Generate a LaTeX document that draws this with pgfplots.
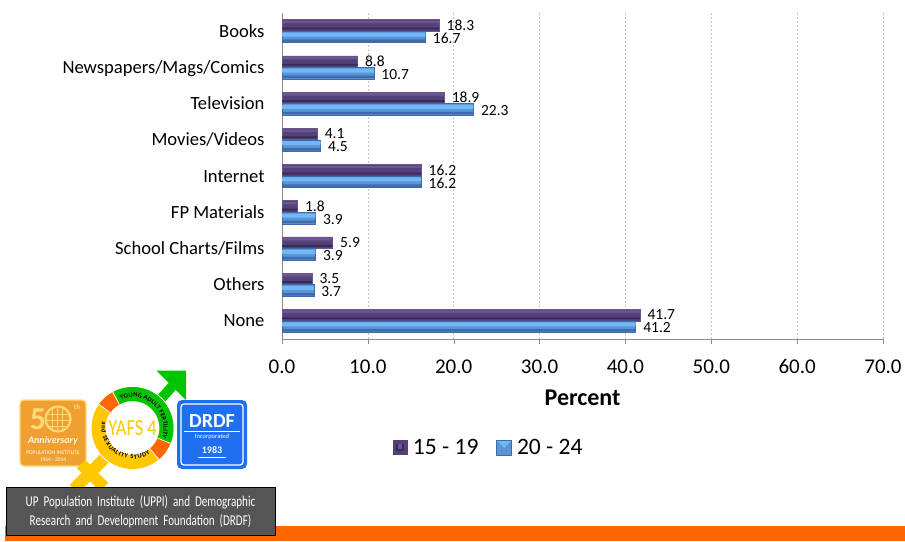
\documentclass[border=0pt]{standalone}
\usepackage{pgfplots}
\pgfplotsset{compat=1.18}
\usepackage{fontspec}
\usetikzlibrary{decorations.text}
\setmainfont{Carlito}
\definecolor{pbase}{HTML}{54407A}
\definecolor{ptop}{HTML}{6B5690}
\definecolor{pdark}{HTML}{3A2A56}
\definecolor{bbase}{HTML}{5A94D6}
\definecolor{btop}{HTML}{72B8F4}
\definecolor{bdark}{HTML}{3F6CA8}
\definecolor{gridc}{HTML}{C4C4C4}
\definecolor{axisc}{HTML}{8C8C8C}
\definecolor{band}{HTML}{FF6600}
\definecolor{goldo}{HTML}{EFA030}
\definecolor{goldl}{HTML}{FFD878}
\definecolor{drdf}{HTML}{1F6FF0}
\definecolor{ringy}{HTML}{FFC800}
\definecolor{ringg}{HTML}{00C400}
\definecolor{boxg}{HTML}{555555}
\pgfplotstableread{
pos a b
0 18.3 16.7
1 8.8 10.7
2 18.9 22.3
3 4.1 4.5
4 16.2 16.2
5 1.8 3.9
6 5.9 3.9
7 3.5 3.7
8 41.7 41.2
}\datatable
\pgfplotsset{
  plegend/.style={legend image code/.code={
    \path[fill=pbase,draw=none] (0pt,-7.5pt) rectangle (15pt,7.5pt);
    \path[fill=pdark,draw=none] (3.5pt,-3.5pt) rectangle (11.5pt,4pt);
    \path[fill=ptop,draw=none] (5.5pt,-1.5pt) rectangle (9.5pt,4pt);}},
  blegend/.style={legend image code/.code={
    \path[fill=bbase,draw=none] (0pt,-7.5pt) rectangle (15pt,7.5pt);
    \path[fill=btop,draw=none] (0pt,7.5pt) -- (15pt,7.5pt) -- (7.5pt,0pt) -- cycle;
    \path[draw=bdark,fill=none,line width=0.6pt] (0pt,-7.5pt) rectangle (15pt,7.5pt);}},
}
\begin{document}
\begin{tikzpicture}[x=1pt,y=-1pt]
\path (0,0) rectangle (905,541);
\fill[band] (5,526) rectangle (905,541);
% gold logo
\fill[goldo,draw=goldl,line width=1.4pt,rounded corners=4pt] (20,400) rectangle (86,466);
\draw[goldl,line width=2.2pt] (58,419) circle (12.5);
\draw[goldl,line width=0.5pt] (52,408) -- (52,430) (57,407) -- (57,431) (62,408) -- (62,430) (47,414) -- (69,414) (46,420) -- (70,420) (47,426) -- (69,426);
\node[text=goldl,font=\fontsize{32}{32}\selectfont\bfseries] at (38,419) {5};
\node[text=goldl,font=\fontsize{7}{7}\selectfont\bfseries\itshape] at (77,407) {th};
\node[text=white!90!goldo,font=\fontsize{10}{10}\selectfont\bfseries\itshape] at (53,441) {Anniversary};
\node[white,font=\fontsize{5.5}{6}\selectfont] at (53,453) {POPULATION INSTITUTE};
\node[white,font=\fontsize{5.5}{6}\selectfont] at (53,460) {1964 - 2014};
% male arrow
\draw[ringg,line width=10pt] (158,402) -- (178,380);
\fill[ringg] (156.7,370.7) -- (186,370.7) -- (186,400) -- cycle;
% female cross
\draw[ringy,line width=12pt] (105,458) -- (74,489);
\draw[ringy,line width=12pt] (81,464) -- (104,487);
% ring
\begin{scope}[shift={(132.5,428)},y=1pt]
\fill[white] (0,0) circle (42);
\draw[ringy,line width=14pt] (0,0) circle (34);
\draw[ringg,line width=14pt] (118:34) arc[start angle=118,end angle=-22,radius=34];
\draw[band,line width=14pt] (-22:34) arc[start angle=-22,end angle=-50,radius=34];
\draw[band,line width=14pt] (119:34) arc[start angle=119,end angle=145,radius=34];
\foreach \a in {119,145,-22,-50}{\draw[white,line width=0.7pt] (\a:27) -- (\a:41);}
\path[postaction={decorate,decoration={text along path,text align={fit to path},
  text={|\fontsize{6.5}{6.5}\selectfont\bfseries|YOUNG ADULT FERTILITY}}}]
  (112:31) arc[start angle=112,end angle=-18,radius=31];
\path[postaction={decorate,decoration={text along path,text align={fit to path},
  text={|\fontsize{6.5}{6.5}\selectfont\bfseries|and  SEXUALITY STUDY}}}]
  (168:31) arc[start angle=168,end angle=305,radius=31];
\node[text=ringy,font=\fontsize{23}{23}\selectfont] at (0,0) {\scalebox{0.8}[1]{YAFS 4}};
\end{scope}
% DRDF
\fill[drdf,rounded corners=5pt] (177,400) rectangle (247,469);
\draw[white,line width=1.2pt,rounded corners=3pt] (181,404) rectangle (243,465);
\node[white,font=\fontsize{20}{20}\selectfont\bfseries] at (212,421) {DRDF};
\node[white,font=\fontsize{6.5}{6.5}\selectfont] at (212,437) {Incorporated};
\draw[white] (184,431) -- (240,431);
\node[white,font=\fontsize{10}{10}\selectfont\bfseries] at (212,450) {1983};
\draw[white] (198,457) -- (226,457);
% grey box
\fill[boxg,draw=black,line width=0.8pt] (6,487) rectangle (275,535);
\node[white,align=center,font=\fontsize{15}{19}\selectfont] at (140.5,512) {\scalebox{0.74}[1]{UP\ \ Population\ \ Institute\ \ (UPPI)\ \ and\ \ Demographic}\\ \scalebox{0.74}[1]{Research\ \ and\ \ Development\ \ Foundation\ \ (DRDF)}};
\begin{axis}[
  at={(282pt,-339pt)},anchor=south west,
  scale only axis,width=601pt,height=326pt,
  xmin=0,xmax=70,ymin=-0.5,ymax=8.5,y dir=reverse,
  axis x line*=bottom,axis y line*=left,
  axis line style={axisc,-},
  xtick={0,10,...,70},
  ytick={0,...,8},
  yticklabels={Books,Newspapers/Mags/Comics,Television,Movies/Videos,Internet,FP Materials,School Charts/Films,Others,None},
  extra y ticks={-0.5,0.5,1.5,2.5,3.5,4.5,5.5,6.5,7.5,8.5},
  extra y tick labels={},
  extra y tick style={major tick length=6pt,tick style={axisc}},
  y tick style={draw=none},
  major tick length=5pt,
  x tick style={axisc},
  tick align=outside,
  /pgf/number format/assume math mode=true,
  /pgf/number format/fixed,/pgf/number format/fixed zerofill,/pgf/number format/precision=1,
  xticklabel style={font=\fontsize{21}{21}\selectfont,yshift=-12pt},
  yticklabel style={font=\fontsize{18.6}{18.6}\selectfont,xshift=-9pt,yshift=-2pt,text height=12pt,text depth=4pt},
  xlabel={\textbf{Percent}},
  xlabel style={font=\fontsize{24}{24}\selectfont,yshift=-9pt},
  xmajorgrids,
  grid style={gridc,dash pattern=on 2pt off 2pt,line width=0.7pt},
  clip=false,
  legend style={at={(0.344,-0.334)},anchor=center,draw=none,fill=none,legend columns=2,
    font=\fontsize{23.5}{23.5}\selectfont,
    /tikz/every even column/.style={column sep=16pt},
    /tikz/every odd column/.style={column sep=3pt}},
  xbar,
  nodes near coords align={horizontal},
]
\addplot[plegend,bar width=11.5pt,bar shift=5.8pt,fill=pbase,draw=ptop,line width=0.5pt,
  nodes near coords,
  every node near coord/.style={font=\fontsize{15.5}{15.5}\selectfont,black,anchor=west,xshift=4pt,yshift=6pt,text height=10pt,text depth=0pt}]
  table[x=a,y=pos]{\datatable};
\addlegendentry{15 - 19}
\addplot[blegend,bar width=11.5pt,bar shift=-5.8pt,fill=bbase,draw=bdark,line width=0.5pt,
  nodes near coords,
  every node near coord/.style={font=\fontsize{15.5}{15.5}\selectfont,black,anchor=west,xshift=4pt,yshift=-7pt,text height=10pt,text depth=0pt}]
  table[x=b,y=pos]{\datatable};
\addlegendentry{20 - 24}
% bevels
\addplot[forget plot,bar width=1.8pt,bar shift=2.6pt,fill=pdark,draw=none] table[x=a,y=pos]{\datatable};
\addplot[forget plot,bar width=2.5pt,bar shift=9.2pt,fill=ptop,draw=none] table[x=a,y=pos]{\datatable};
\addplot[forget plot,bar width=4pt,bar shift=-3.4pt,fill=btop,draw=none] table[x=b,y=pos]{\datatable};
\addplot[forget plot,bar width=2.5pt,bar shift=-9.6pt,fill=bdark,draw=none] table[x=b,y=pos]{\datatable};
\end{axis}
\end{tikzpicture}
\end{document}
